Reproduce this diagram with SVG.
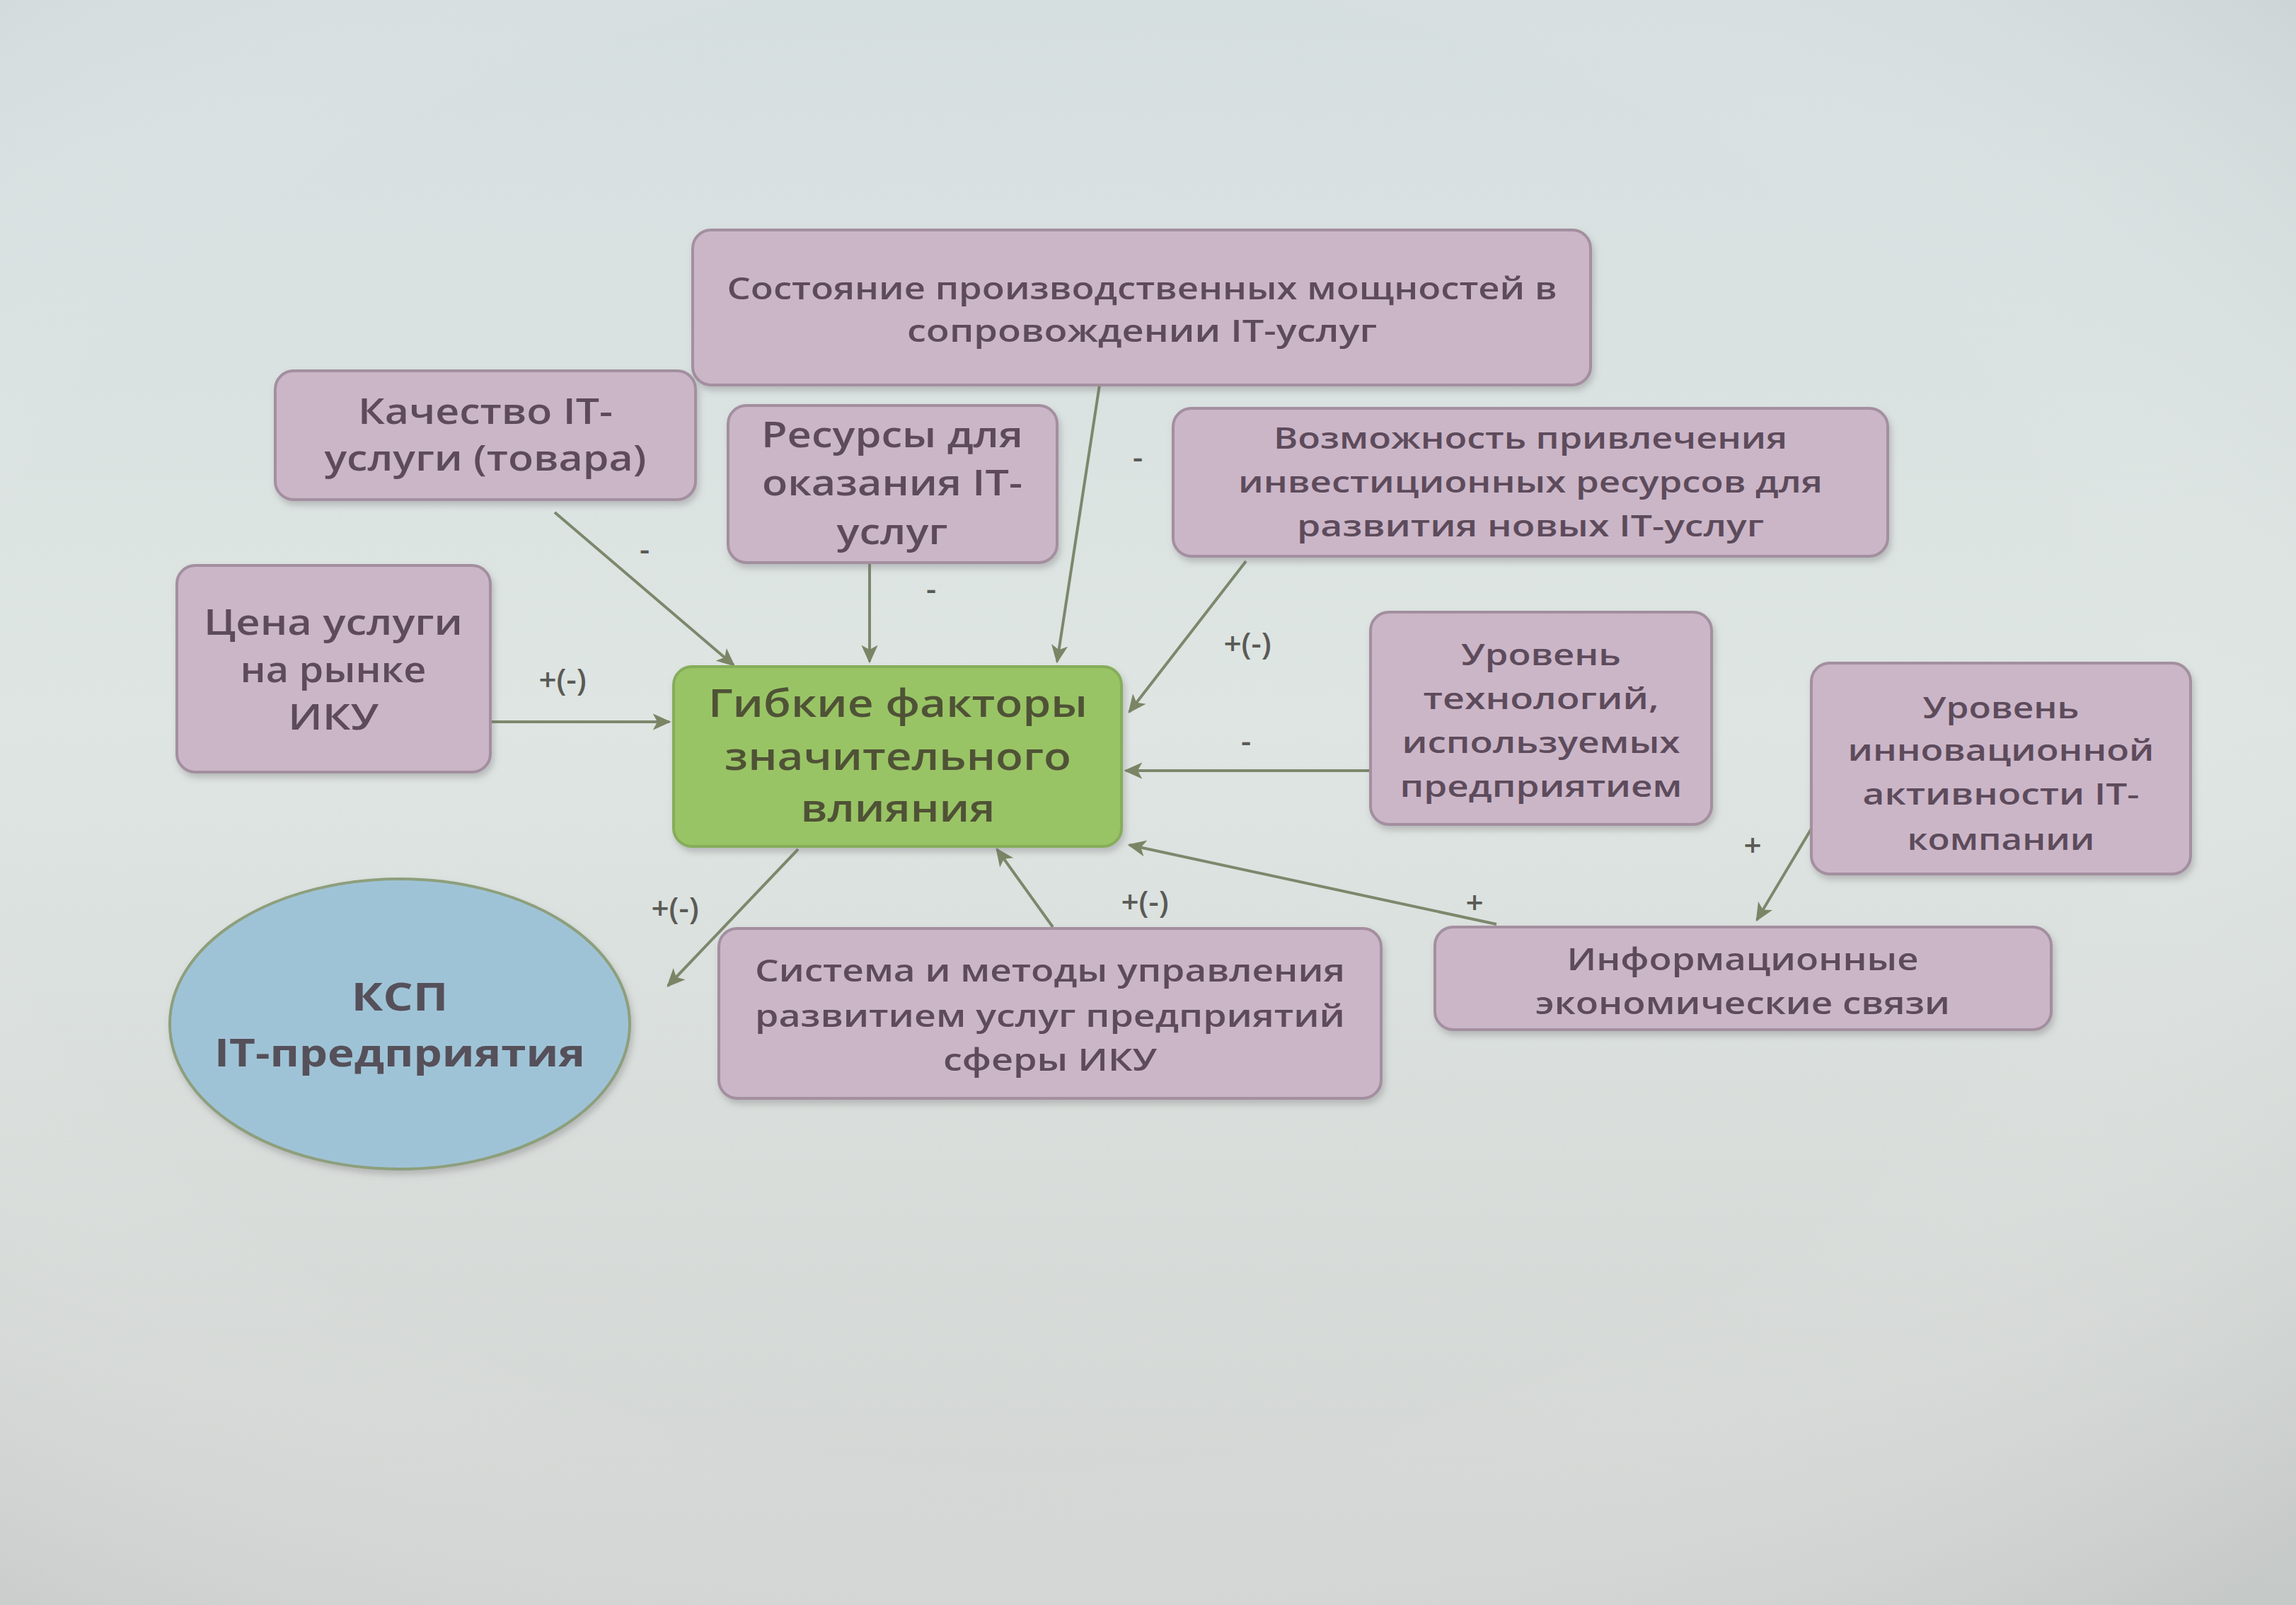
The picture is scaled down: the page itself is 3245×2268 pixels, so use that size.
<svg xmlns="http://www.w3.org/2000/svg" width="3245" height="2268" viewBox="0 0 3245 2268">
<defs>
<linearGradient id="bg" x1="0" y1="0" x2="0" y2="1">
<stop offset="0" stop-color="#d6dfe0"/>
<stop offset="0.45" stop-color="#dee5e2"/>
<stop offset="1" stop-color="#d2d5d3"/>
</linearGradient>
<radialGradient id="vig" cx="0.45" cy="0.45" r="0.75">
<stop offset="0.6" stop-color="#ffffff" stop-opacity="0"/>
<stop offset="1" stop-color="#9fa5a3" stop-opacity="0.25"/>
</radialGradient>
<filter id="sh" x="-10%" y="-10%" width="120%" height="130%">
<feDropShadow dx="3" dy="6" stdDeviation="5" flood-color="#6e6a6e" flood-opacity="0.35"/>
</filter>
<marker id="ah" viewBox="0 0 10 10" refX="9" refY="5" markerWidth="26" markerHeight="26" markerUnits="userSpaceOnUse" orient="auto">
<path d="M0,0.5 L10,5 L0,9.5 L2.5,5 Z" fill="#7b8566"/>
</marker>
<style>
.box{fill:#cbb6c8;stroke:#a38f9f;stroke-width:4;filter:url(#sh)}
.green{fill:#99c465;stroke:#86ad5a;stroke-width:4;filter:url(#sh)}
.blue{fill:#9fc3d6;stroke:#8d9f7c;stroke-width:4;filter:url(#sh)}
.t{font-family:"Open Sans","Liberation Sans",sans-serif;font-weight:600;fill:#5d4b5b;text-anchor:middle}
.tg{font-family:"Open Sans","Liberation Sans",sans-serif;font-weight:600;fill:#4f5236;text-anchor:middle}
.tb{font-family:"Open Sans","Liberation Sans",sans-serif;font-weight:700;fill:#55505a;text-anchor:middle}
.c{stroke:#7d876c;stroke-width:4;fill:none;marker-end:url(#ah)}
.lbl{font-family:"Open Sans","Liberation Sans",sans-serif;font-weight:600;fill:#5a5a56;font-size:44px;text-anchor:middle}
</style>
</defs>
<rect width="3245" height="2268" fill="url(#bg)"/>
<rect width="3245" height="2268" fill="url(#vig)"/>

<g id="connectors">
<line class="c" x1="693" y1="1020" x2="946" y2="1020"/>
<line class="c" x1="784" y1="724" x2="1037" y2="940"/>
<line class="c" x1="1229" y1="795" x2="1229" y2="935"/>
<line class="c" x1="1554" y1="544" x2="1494" y2="935"/>
<line class="c" x1="1761" y1="793" x2="1596" y2="1006"/>
<line class="c" x1="1937" y1="1089" x2="1591" y2="1089"/>
<line class="c" x1="2115" y1="1306" x2="1596" y2="1194"/>
<line class="c" x1="2560" y1="1171" x2="2483" y2="1300"/>
<line class="c" x1="1488" y1="1310" x2="1409" y2="1200"/>
<line class="c" x1="1128" y1="1200" x2="944" y2="1393"/>
<text class="lbl" x="795" y="976">+(-)</text>
<text class="lbl" x="911" y="792">-</text>
<text class="lbl" x="1316" y="848">-</text>
<text class="lbl" x="1608" y="662">-</text>
<text class="lbl" x="1763" y="925">+(-)</text>
<text class="lbl" x="1761" y="1063">-</text>
<text class="lbl" x="2084" y="1291">+</text>
<text class="lbl" x="2477" y="1210">+</text>
<text class="lbl" x="1618" y="1290">+(-)</text>
<text class="lbl" x="954" y="1299">+(-)</text>
</g>

<g id="n-state">
<rect class="box" x="979" y="325" width="1269" height="219" rx="26"/>
<text class="t" font-size="44"><tspan x="1614" y="423" textLength="1173" lengthAdjust="spacingAndGlyphs">Состояние производственных мощностей в</tspan><tspan x="1614" y="483" textLength="664" lengthAdjust="spacingAndGlyphs">сопровождении IT-услуг</tspan></text>
</g>

<g id="n-quality">
<rect class="box" x="389" y="524" width="594" height="182" rx="26"/>
<text class="t" font-size="50"><tspan x="686" y="599" textLength="360" lengthAdjust="spacingAndGlyphs">Качество IT-</tspan><tspan x="686" y="665" textLength="455" lengthAdjust="spacingAndGlyphs">услуги (товара)</tspan></text>
</g>

<g id="n-resources">
<rect class="box" x="1029" y="573" width="465" height="222" rx="26"/>
<text class="t" font-size="50"><tspan x="1261" y="632" textLength="370" lengthAdjust="spacingAndGlyphs">Ресурсы для</tspan><tspan x="1261" y="700" textLength="368" lengthAdjust="spacingAndGlyphs">оказания IT-</tspan><tspan x="1261" y="769" textLength="157" lengthAdjust="spacingAndGlyphs">услуг</tspan></text>
</g>

<g id="n-invest">
<rect class="box" x="1658" y="577" width="1010" height="209" rx="26"/>
<text class="t" font-size="42"><tspan x="2163" y="634" textLength="726" lengthAdjust="spacingAndGlyphs">Возможность привлечения</tspan><tspan x="2163" y="696" textLength="826" lengthAdjust="spacingAndGlyphs">инвестиционных ресурсов для</tspan><tspan x="2163" y="758" textLength="660" lengthAdjust="spacingAndGlyphs">развития новых IT-услуг</tspan></text>
</g>

<g id="n-price">
<rect class="box" x="250" y="799" width="443" height="292" rx="26"/>
<text class="t" font-size="50"><tspan x="471" y="897" textLength="366" lengthAdjust="spacingAndGlyphs">Цена услуги</tspan><tspan x="471" y="964" textLength="263" lengthAdjust="spacingAndGlyphs">на рынке</tspan><tspan x="471" y="1031" textLength="128" lengthAdjust="spacingAndGlyphs">ИКУ</tspan></text>
</g>

<g id="n-central">
<rect class="green" x="952" y="942" width="633" height="254" rx="26"/>
<text class="tg" font-size="54"><tspan x="1269" y="1013" textLength="536" lengthAdjust="spacingAndGlyphs">Гибкие факторы</tspan><tspan x="1269" y="1088" textLength="490" lengthAdjust="spacingAndGlyphs">значительного</tspan><tspan x="1269" y="1161" textLength="275" lengthAdjust="spacingAndGlyphs">влияния</tspan></text>
</g>

<g id="n-tech">
<rect class="box" x="1937" y="865" width="482" height="300" rx="26"/>
<text class="t" font-size="42"><tspan x="2178" y="940" textLength="226" lengthAdjust="spacingAndGlyphs">Уровень</tspan><tspan x="2178" y="1002" textLength="333" lengthAdjust="spacingAndGlyphs">технологий,</tspan><tspan x="2178" y="1064" textLength="393" lengthAdjust="spacingAndGlyphs">используемых</tspan><tspan x="2178" y="1126" textLength="399" lengthAdjust="spacingAndGlyphs">предприятием</tspan></text>
</g>

<g id="n-innov">
<rect class="box" x="2560" y="937" width="536" height="298" rx="26"/>
<text class="t" font-size="42"><tspan x="2828" y="1015" textLength="221" lengthAdjust="spacingAndGlyphs">Уровень</tspan><tspan x="2828" y="1075" textLength="433" lengthAdjust="spacingAndGlyphs">инновационной</tspan><tspan x="2828" y="1137" textLength="391" lengthAdjust="spacingAndGlyphs">активности IT-</tspan><tspan x="2828" y="1201" textLength="265" lengthAdjust="spacingAndGlyphs">компании</tspan></text>
</g>

<g id="n-ksp">
<ellipse class="blue" cx="565" cy="1447" rx="325" ry="205"/>
<text class="tb" font-size="54"><tspan x="565" y="1428" textLength="137" lengthAdjust="spacingAndGlyphs">КСП</tspan><tspan x="565" y="1507" textLength="524" lengthAdjust="spacingAndGlyphs">IT-предприятия</tspan></text>
</g>

<g id="n-system">
<rect class="box" x="1016" y="1312" width="936" height="240" rx="26"/>
<text class="t" font-size="44"><tspan x="1484" y="1387" textLength="834" lengthAdjust="spacingAndGlyphs">Система и методы управления</tspan><tspan x="1484" y="1451" textLength="834" lengthAdjust="spacingAndGlyphs">развитием услуг предприятий</tspan><tspan x="1484" y="1513" textLength="302" lengthAdjust="spacingAndGlyphs">сферы ИКУ</tspan></text>
</g>

<g id="n-info">
<rect class="box" x="2028" y="1310" width="871" height="145" rx="26"/>
<text class="t" font-size="44"><tspan x="2463" y="1371" textLength="497" lengthAdjust="spacingAndGlyphs">Информационные</tspan><tspan x="2463" y="1433" textLength="586" lengthAdjust="spacingAndGlyphs">экономические связи</tspan></text>
</g>
</svg>
